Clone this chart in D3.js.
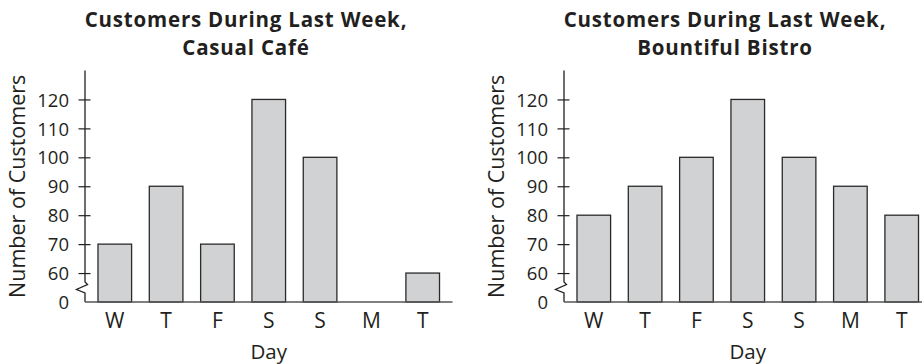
<!DOCTYPE html>
<html>
<head>
<meta charset="utf-8">
<script src="https://cdn.jsdelivr.net/npm/d3@7"></script>
<style>
  html, body { margin: 0; padding: 0; background: #fff; }
  svg { display: block; }
  text { font-family: "Open Sans", "Noto Sans", sans-serif; fill: #231f20; }
</style>
</head>
<body>
<svg id="chart" width="922" height="364"></svg>
<script>
const days = ["W", "T", "F", "S", "S", "M", "T"];
const cafeValues = [70, 90, 70, 120, 100, null, 60];
const bistroValues = [80, 90, 100, 120, 100, 90, 80];
const titlesCafe = ["Customers During Last Week,", "Casual Café"];
const titlesBistro = ["Customers During Last Week,", "Bountiful Bistro"];
const tickValues = [60, 70, 80, 90, 100, 110, 120];
const breakLabel = "0";
const yLabel = "Number of Customers";
const xLabel = "Day";

const svg = d3.select("#chart");
const ink = "#231f20";

function drawChart(offsetX, titleLines, values) {
  const g = svg.append("g").attr("transform", `translate(${offsetX},0)`);
  const x0 = 85, x1 = 452.5, yBase = 302, yTop = 70.5;
  const y = d3.scaleLinear().domain([50, 130]).range([yBase, yTop]);
  const x = d3.scaleBand().domain(d3.range(days.length)).range([x0, x1])
    .paddingInner(0.345).paddingOuter(0.253);

  // title
  g.append("text").attr("x", 246).attr("y", 27.3).attr("text-anchor", "middle")
    .attr("font-weight", 700).attr("font-size", 20.5).attr("letter-spacing", 0.8)
    .text(titleLines[0]);
  g.append("text").attr("x", 246).attr("y", 55.3).attr("text-anchor", "middle")
    .attr("font-weight", 700).attr("font-size", 20.5).attr("letter-spacing", 0.8)
    .text(titleLines[1]);

  // bars
  g.selectAll("rect.bar").data(values.map((v, i) => ({v, i})).filter(d => d.v != null))
    .join("rect").attr("class", "bar")
    .attr("x", d => x(d.i)).attr("width", x.bandwidth())
    .attr("y", d => y(d.v)).attr("height", d => yBase - y(d.v))
    .attr("fill", "#d1d2d4").attr("stroke", "#2b2a2b").attr("stroke-width", 1.3);

  // y axis with break
  const yAxis = d3.axisLeft(y).tickValues(tickValues).tickSize(0).tickPadding(0);
  const ya = g.append("g").attr("transform", `translate(${x0},0)`).call(yAxis);
  ya.select(".domain").remove();
  ya.selectAll(".tick text").remove();
  ya.selectAll(".tick").append("line").attr("x1", -6.5).attr("x2", 5.5)
    .attr("stroke", ink).attr("stroke-width", 1.2);
  ya.selectAll(".tick").append("text").attr("x", -16).attr("dy", "0.36em")
    .attr("text-anchor", "end").attr("font-size", 18.5).text(d => d);
  g.append("text").attr("x", x0 - 16).attr("y", yBase).attr("dy", "0.36em")
    .attr("text-anchor", "end").attr("font-size", 18.5).text(breakLabel);

  const axisPath = d3.path();
  axisPath.moveTo(x0, yTop);
  axisPath.lineTo(x0, 282);
  axisPath.lineTo(87.5 - 85 + x0, 284.5);
  axisPath.lineTo(76.5 - 85 + x0, 289.5);
  axisPath.lineTo(x0, 293);
  axisPath.lineTo(x0, yBase);
  g.append("path").attr("d", axisPath.toString()).attr("fill", "none")
    .attr("stroke", ink).attr("stroke-width", 1.3);

  // x axis
  const xAxis = d3.axisBottom(x).tickFormat(i => days[i]).tickSize(0).tickPadding(0);
  const xa = g.append("g").attr("transform", `translate(0,${yBase})`).call(xAxis);
  xa.select(".domain").attr("d", `M${x0},0H${x1}`).attr("stroke", "#555").attr("stroke-width", 1.6);
  xa.selectAll(".tick text").attr("y", 25.5).attr("dy", null).attr("font-size", 21)
    .attr("fill", ink).attr("font-family", null);

  g.append("text").attr("x", (x0 + x1) / 2).attr("y", 358.5).attr("text-anchor", "middle")
    .attr("font-size", 20.5).text(xLabel);

  g.append("text").attr("transform", `translate(25,186.3) rotate(-90)`)
    .attr("text-anchor", "middle").attr("font-size", 21.5).text(yLabel);
}

drawChart(0, titlesCafe, cafeValues);
drawChart(479, titlesBistro, bistroValues);
</script>
</body>
</html>
